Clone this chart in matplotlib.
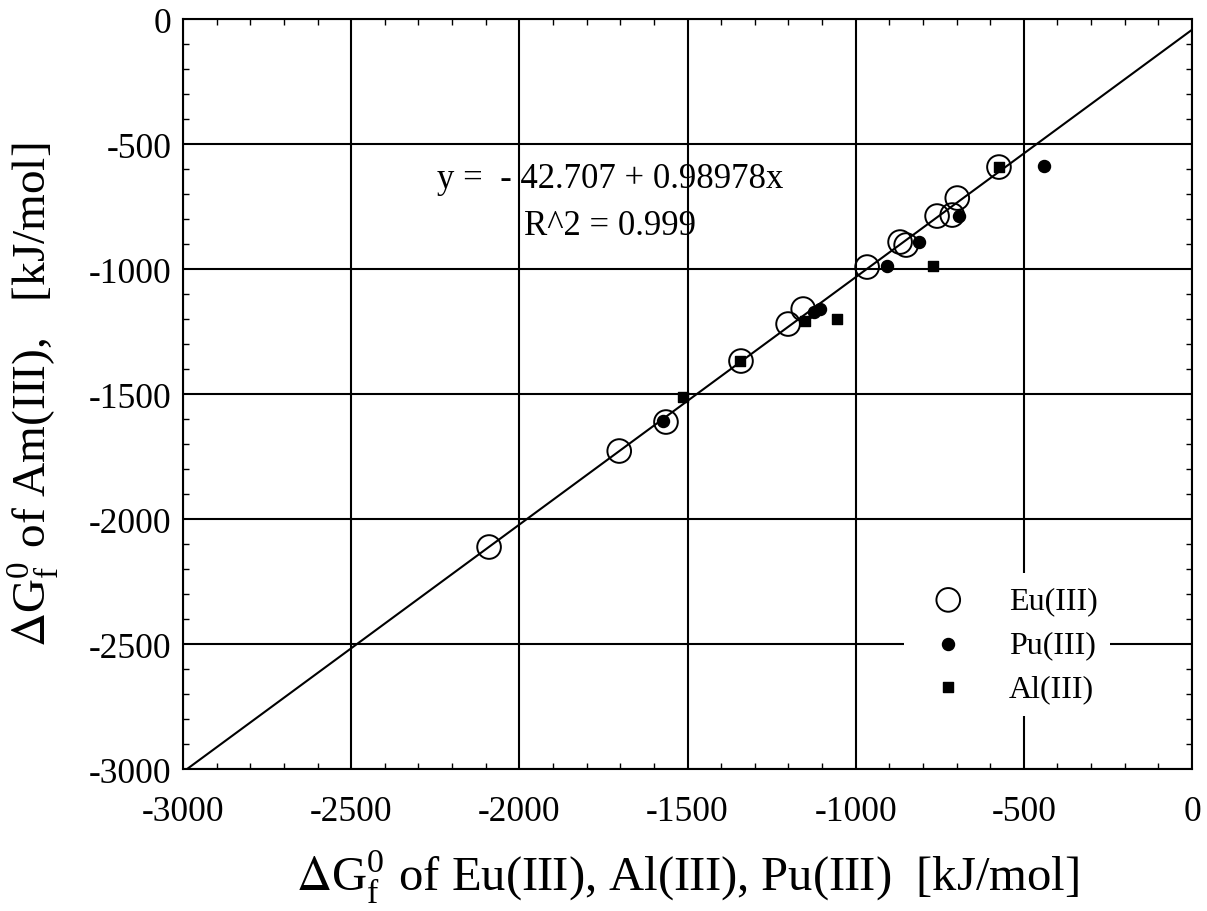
import numpy as np
import matplotlib.pyplot as plt
from matplotlib.ticker import MultipleLocator

plt.rcParams['font.family'] = ['Liberation Serif', 'DejaVu Serif']
plt.rcParams['mathtext.fontset'] = 'stix'
plt.rcParams['axes.unicode_minus'] = False

# Eu(III) vs Am(III)
eu_x = [-2090, -1703, -1564, -1341, -1201, -1156, -966, -868, -850, -758, -713, -698, -574]
eu_y = [-2112, -1728, -1612, -1368, -1220, -1160, -992, -892, -904, -788, -784, -716, -592]
# Pu(III) vs Am(III)
pu_x = [-1573, -1125, -1106, -907, -812, -693, -440]
pu_y = [-1608, -1172, -1160, -988, -892, -788, -588]
# Al(III) vs Am(III)
al_x = [-1513, -1344, -1150, -1055, -770, -574]
al_y = [-1512, -1368, -1208, -1200, -988, -592]

# ajuste lineal
a0, a1 = -42.707, 0.98978
fit_x = np.array([-3000, 0])

fig = plt.figure(figsize=(12.07, 9.12), dpi=100)
ax = fig.add_axes([0.1516, 0.1557, 0.836, 0.8223])

ax.plot(fit_x, a0 + a1 * fit_x, color='black', lw=1.5, zorder=2)
ax.scatter(eu_x, eu_y, s=290, facecolors='none', edgecolors='black', linewidths=1.4, zorder=3, label='Eu(III)')
ax.scatter(pu_x, pu_y, s=75, color='black', zorder=4, label='Pu(III)')
ax.scatter(al_x, al_y, s=55, marker='s', color='black', zorder=4, label='Al(III)')

ax.set_xlim(-3000, 0)
ax.set_ylim(-3000, 0)
ax.xaxis.set_major_locator(MultipleLocator(500))
ax.yaxis.set_major_locator(MultipleLocator(500))
ax.xaxis.set_minor_locator(MultipleLocator(100))
ax.yaxis.set_minor_locator(MultipleLocator(100))
ax.grid(True, which='major', color='black', lw=1.5)
ax.tick_params(which='both', direction='in', top=True, right=True, labelsize=25.5)
ax.tick_params(axis='x', pad=19)
ax.tick_params(axis='y', pad=8)
ax.tick_params(which='major', length=8, width=1.2)
ax.tick_params(which='minor', length=4, width=1.0)
for s in ax.spines.values():
    s.set_linewidth(1.5)

ax.text(-1730, -672, 'y =  - 42.707 + 0.98978x', fontsize=25, ha='center', va='baseline')
ax.text(-1730, -860, 'R^2 = 0.999', fontsize=25, ha='center', va='baseline')

ax.set_xlabel(r'$\Delta$G$_\mathregular{f}^\mathregular{0}$ of Eu(III), Al(III), Pu(III)  [kJ/mol]',
              fontsize=35, labelpad=14)
ax.set_ylabel(r'$\Delta$G$_\mathregular{f}^\mathregular{0}$ of Am(III),   [kJ/mol]',
              fontsize=34, labelpad=20)

leg = ax.legend(loc='lower right', bbox_to_anchor=(0.935, 0.05), fontsize=23, frameon=True,
                edgecolor='white', framealpha=1, handletextpad=0.9, labelspacing=0.45,
                scatterpoints=1)
leg.get_frame().set_linewidth(0)

fig.savefig('out.png', dpi=100)
